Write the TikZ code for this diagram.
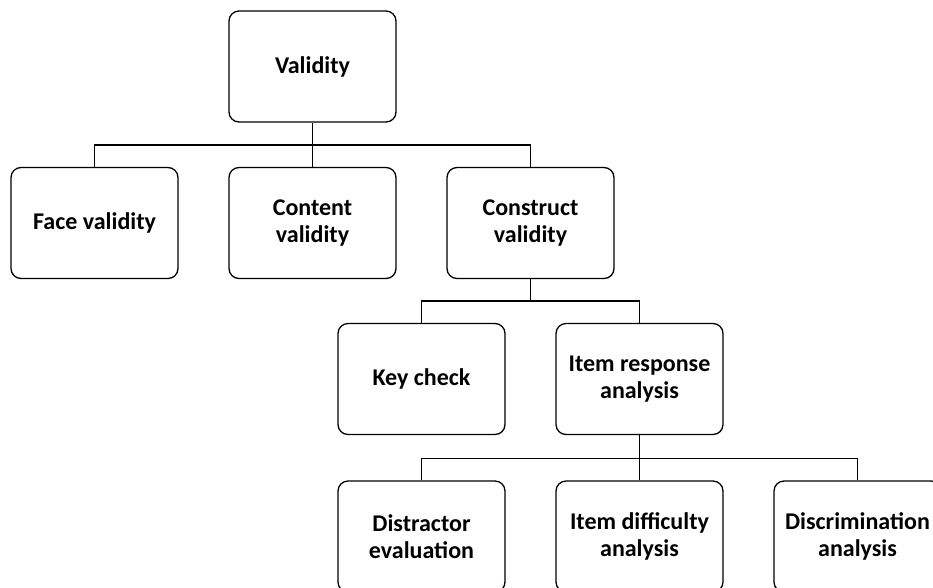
\documentclass[tikz,border=0pt]{standalone}
\usepackage{fontspec}
\setmainfont{Carlito}
\begin{document}
\begin{tikzpicture}[x=1pt,y=-1pt,
  box/.style={draw, rounded corners=10pt, line width=1.3pt,
    minimum width=167pt, minimum height=111pt, inner sep=0pt,
    align=center, font=\bfseries\fontsize{24}{27}\selectfont},
  link/.style={line width=1.3pt}]
\useasboundingbox (0,0) rectangle (933,587);

% level 0
\node[box] (val) at (312.5,66.5) {Validity};
% level 1
\node[box] (face) at (94.5,223) {Face validity};
\node[box] (cont) at (312.5,223) {Content\\validity};
\node[box] (cons) at (530.5,223) {Construct\\validity};
% level 2
\node[box] (key) at (421.5,379) {Key check};
\node[box] (ira) at (639.5,379) {Item response\\analysis};
% level 3
\node[box] (dis) at (421.5,536.5) {Distractor\\evaluation};
\node[box] (dif) at (639.5,536.5) {Item difficulty\\analysis};
\node[box] (crim) at (857.5,536.5) {Discrimination\\analysis};

% bus lines
\coordinate (b1) at (0,145);
\coordinate (b2) at (0,301);
\coordinate (b3) at (0,458.5);

\draw[link] (val.south) -- (cont.north);
\draw[link] (face.north) -- (face.north |- b1) -- (cons.north |- b1) -- (cons.north);

\draw[link] (cons.south) -- (cons.south |- b2);
\draw[link] (key.north) -- (key.north |- b2) -- (ira.north |- b2) -- (ira.north);

\draw[link] (ira.south) -- (dif.north);
\draw[link] (dis.north) -- (dis.north |- b3) -- (crim.north |- b3) -- (crim.north);
\end{tikzpicture}
\end{document}
